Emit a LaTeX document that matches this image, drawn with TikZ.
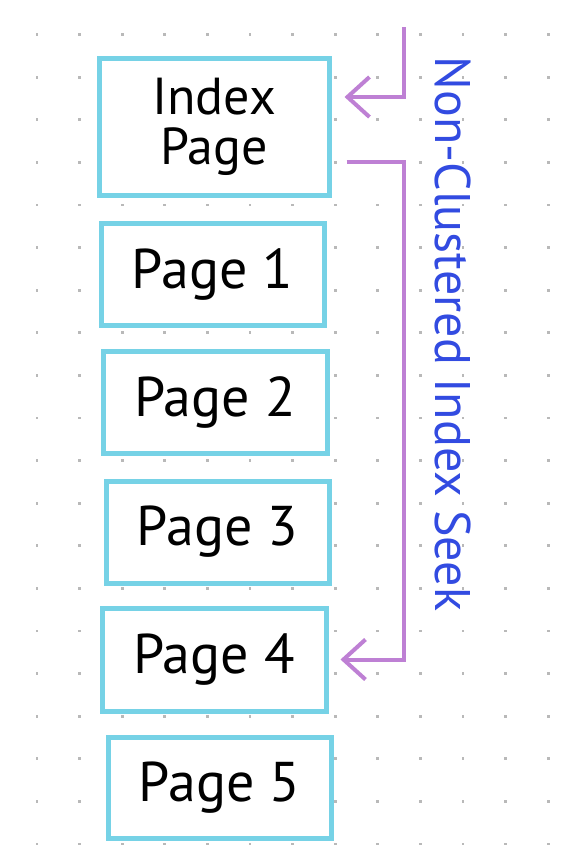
\documentclass[tikz,border=0pt]{standalone}
\usepackage{fontspec}
\setmainfont{PT Sans}
\usetikzlibrary{arrows.meta,positioning}

\definecolor{boxcyan}{RGB}{118,210,230}
\definecolor{seekpurple}{RGB}{190,128,212}
\definecolor{seekblue}{RGB}{50,75,225}
\definecolor{dotgray}{RGB}{185,185,185}

\tikzset{
	pagebox/.style={draw=boxcyan, line width=5pt, fill=white, inner sep=0pt,
		font=\fontsize{56}{60}\selectfont},
	seek/.style={draw=seekpurple, line width=4pt,
		-{Straight Barb[length=22pt,width=40pt,line width=4pt]}}
}

\begin{document}
\begin{tikzpicture}[x=1pt,y=-1pt]
	\useasboundingbox (0,0) rectangle (578,865);
	\fill[white] (0,0) rectangle (578,865);
	% dotted paper
	\foreach \i in {0,...,12}
		\foreach \j in {0,...,19}
			\fill[dotgray] ({37+42.6*\i-1.4},{34.5+42.6*\j-1.4}) rectangle +(2.8,2.8);

	\node[pagebox, minimum width=230pt, minimum height=137pt, align=center,
		font=\fontsize{52}{50}\selectfont] (index) at (214,126.5) {Index\\Page};
	\node[pagebox, minimum width=223pt, minimum height=102pt] (p1) at (212.5,274) {Page 1};
	\node[pagebox, minimum width=224pt, minimum height=102pt] (p2) at (215,402) {Page 2};
	\node[pagebox, minimum width=223pt, minimum height=102pt] (p3) at (217.5,532) {Page 3};
	\node[pagebox, minimum width=224pt, minimum height=103pt] (p4) at (214,659.5) {Page 4};
	\node[pagebox, minimum width=223pt, minimum height=101pt] (p5) at (219.5,787.5) {Page 5};

	\coordinate (top) at (404,27);
	\coordinate (turn) at (404,162);
	\draw[seek, shorten >=13pt] (top) |- ([yshift=29.5pt]index.east);
	\draw[seek, shorten >=12pt] ([xshift=15pt,yshift=-35.5pt]index.east) -- (turn) |- (p4.east);

	\node[rotate=-90, text=seekblue, font=\fontsize{50}{54}\selectfont] (label) at (453,334)
		{Non-Clustered Index Seek};
\end{tikzpicture}
\end{document}
